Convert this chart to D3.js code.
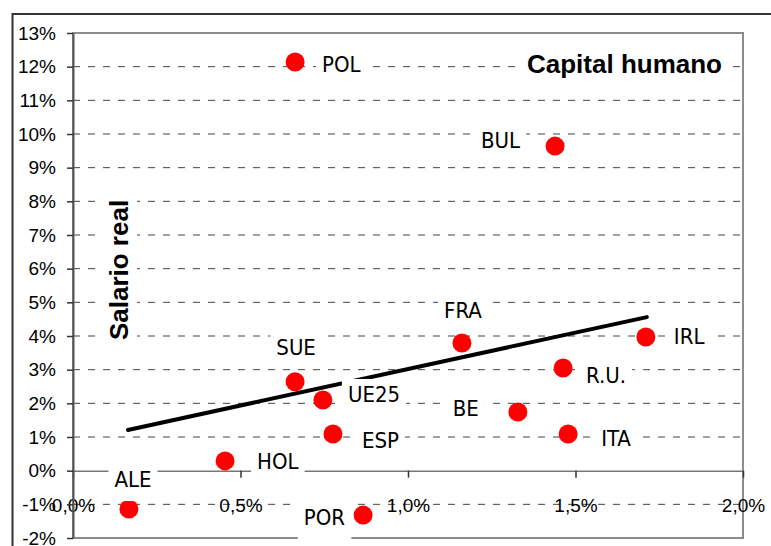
<!DOCTYPE html>
<html>
<head>
<meta charset="utf-8">
<script src="https://cdn.jsdelivr.net/npm/d3@7"></script>
<style>
  body { margin: 0; background: #fff; }
  svg { display: block; }
</style>
</head>
<body>
<div id="chart"></div>
<script>
  // Data (x: capital humano %, y: salario real %)
  const countries = ["POL", "BUL", "FRA", "IRL", "SUE", "UE25", "R.U.", "BE", "ITA", "ESP", "HOL", "ALE", "POR"];
  const capitalHumano = [0.663, 1.439, 1.161, 1.710, 0.663, 0.746, 1.463, 1.328, 1.478, 0.776, 0.454, 0.167, 0.866];
  const salarioReal = [12.14, 9.64, 3.79, 3.97, 2.64, 2.10, 3.05, 1.74, 1.09, 1.09, 0.29, -1.14, -1.32];

  // Linear trend line endpoints
  const trendX = [0.164, 1.713];
  const trendY = [1.21, 4.56];

  const yTicks = d3.range(-2, 14);
  const xTicks = [0, 0.5, 1, 1.5, 2];

  const data = countries.map((c, i) => ({ name: c, x: capitalHumano[i], y: salarioReal[i] }));

  // Chart dimensions
  const width = 771;
  const height = 546;
  const plotLeft = 73, plotRight = 743, plotTop = 33, plotBottom = 538;

  // label placement: anchor, dx, dy (baseline) relative to the marker
  const labelPos = {
    "POL":  ["start", 27, 10],
    "BUL":  ["end", -35, 2],
    "FRA":  ["middle", 1, -25],
    "IRL":  ["start", 28, 7],
    "SUE":  ["middle", 1, -27],
    "UE25": ["start", 25, 2],
    "R.U.": ["start", 23, 15],
    "BE":   ["end", -39, 4],
    "ITA":  ["start", 33, 12],
    "ESP":  ["start", 29, 14],
    "HOL":  ["start", 32, 8],
    "ALE":  ["middle", 4, -22],
    "POR":  ["end", -18, 10]
  };

  const x = d3.scaleLinear().domain([0, 2]).range([plotLeft, plotRight]);
  const y = d3.scaleLinear().domain([-2, 13]).range([plotBottom, plotTop]);

  const svg = d3.select("#chart")
    .append("svg")
    .attr("width", width)
    .attr("height", height);

  // outer chart frame
  svg.append("path")
    .attr("d", `M12.5,${height} V14 H${width}`)
    .attr("fill", "none")
    .attr("stroke", "#333")
    .attr("stroke-width", 2);

  // plot area border
  svg.append("rect")
    .attr("x", plotLeft)
    .attr("y", plotTop)
    .attr("width", plotRight - plotLeft)
    .attr("height", plotBottom - plotTop)
    .attr("fill", "none")
    .attr("stroke", "#8c8c8c")
    .attr("stroke-width", 2);

  // dashed gridlines
  svg.append("g")
    .selectAll("line")
    .data(yTicks.filter(v => v !== 0 && v > -2 && v < 13))
    .join("line")
    .attr("x1", plotLeft)
    .attr("x2", plotRight)
    .attr("y1", d => y(d))
    .attr("y2", d => y(d))
    .attr("stroke", "#444")
    .attr("stroke-width", 1)
    .attr("stroke-dasharray", "7,8");

  // X axis sits on the 0% line
  const xAxis = svg.append("g")
    .attr("transform", `translate(0,${y(0)})`)
    .call(d3.axisBottom(x)
      .tickValues(xTicks)
      .tickSize(7)
      .tickSizeOuter(0)
      .tickFormat(d => d.toFixed(1).replace(".", ",") + "%"));
  xAxis.select(".domain").attr("stroke", "#777").attr("stroke-width", 1.5);
  xAxis.selectAll(".tick line").attr("stroke", "#333").attr("stroke-width", 1.5);
  xAxis.selectAll("text")
    .attr("y", 41)
    .attr("dy", null)
    .attr("fill", "#000")
    .style("font", "19px 'Liberation Sans', Arial, sans-serif");

  // Y axis
  const yAxis = svg.append("g")
    .attr("transform", `translate(${plotLeft},0)`)
    .call(d3.axisLeft(y)
      .tickValues(yTicks)
      .tickSize(6)
      .tickSizeOuter(0)
      .tickPadding(11)
      .tickFormat(d => d + "%"));
  yAxis.select(".domain").attr("stroke", "#555").attr("stroke-width", 2);
  yAxis.selectAll(".tick line").attr("stroke", "#333").attr("stroke-width", 1.5);
  yAxis.selectAll("text")
    .attr("fill", "#000")
    .style("font", "19px 'Liberation Sans', Arial, sans-serif");

  // trend line
  svg.append("path")
    .datum(trendX.map((v, i) => [v, trendY[i]]))
    .attr("fill", "none")
    .attr("stroke", "#000")
    .attr("stroke-width", 4)
    .attr("stroke-linecap", "round")
    .attr("d", d3.line().x(d => x(d[0])).y(d => y(d[1])));

  // markers
  svg.append("g")
    .selectAll("circle")
    .data(data)
    .join("circle")
    .attr("cx", d => x(d.x))
    .attr("cy", d => y(d.y))
    .attr("r", 9.5)
    .attr("fill", "#ff0000");

  // data labels with white boxes
  const labels = svg.append("g")
    .selectAll("g")
    .data(data)
    .join("g");

  labels.each(function(d) {
    const g = d3.select(this);
    const [anchor, dx, dy] = labelPos[d.name];
    const tx = x(d.x) + dx;
    const ty = y(d.y) + dy;
    const rect = g.append("rect").attr("fill", "#fff");
    const t = g.append("text")
      .attr("x", tx)
      .attr("y", ty)
      .attr("text-anchor", anchor)
      .attr("fill", "#000")
      .style("font-family", "'DejaVu Sans Condensed', 'DejaVu Sans', sans-serif")
      .style("font-stretch", "condensed")
      .style("font-size", "22px")
      .text(d.name);
    const bb = t.node().getBBox();
    rect.attr("x", bb.x - 6)
      .attr("y", ty - 23)
      .attr("width", bb.width + 12)
      .attr("height", 37);
  });

  // titles (white boxes hide the gridlines behind them)
  const title = svg.append("g");
  const titleBox = title.append("rect").attr("fill", "#fff");
  const titleText = title.append("text")
    .attr("x", 722)
    .attr("y", 73)
    .attr("text-anchor", "end")
    .style("font", "bold 26px 'Liberation Sans', Arial, sans-serif")
    .text("Capital humano");
  const tb = titleText.node().getBBox();
  titleBox.attr("x", tb.x - 9).attr("y", tb.y - 3)
    .attr("width", tb.width + 18).attr("height", tb.height + 6);

  const yTitle = svg.append("g").attr("transform", "translate(128,270) rotate(-90)");
  const yTitleBox = yTitle.append("rect").attr("fill", "#fff");
  const yTitleText = yTitle.append("text")
    .attr("text-anchor", "middle")
    .style("font", "bold 26px 'Liberation Sans', Arial, sans-serif")
    .text("Salario real");
  const yb = yTitleText.node().getBBox();
  yTitleBox.attr("x", yb.x - 8).attr("y", yb.y - 3)
    .attr("width", yb.width + 16).attr("height", yb.height + 6);
</script>
</body>
</html>
